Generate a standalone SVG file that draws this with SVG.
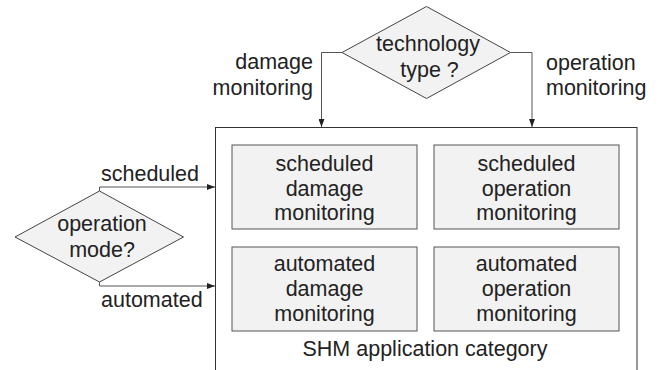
<svg xmlns="http://www.w3.org/2000/svg" width="659" height="370" viewBox="0 0 659 370">
<style>
text{font-family:"Liberation Sans",Arial,sans-serif;font-size:21.5px;fill:#222}
.c{text-anchor:middle}
.e{text-anchor:end}
.box{fill:#f2f2f2;stroke:#555;stroke-width:1}
.dia{fill:#f2f2f2;stroke:#444;stroke-width:1}
.outer{fill:#fff;stroke:#333;stroke-width:1}
.conn{fill:none;stroke:#555;stroke-width:1}
</style>
<defs>
<marker id="arr" viewBox="0 0 8 6" refX="8" refY="3" markerWidth="8" markerHeight="6" markerUnits="userSpaceOnUse" orient="auto">
<path d="M0,0 L8,3 L0,6 Z" fill="#222"/>
</marker>
</defs>
<rect width="659" height="370" fill="#fff"/>
<g id="category">
<rect class="outer" x="215.5" y="127.5" width="421.5" height="260"/>
<text class="c" x="425" y="356">SHM application category</text>
</g>
<g id="sched-damage">
<rect class="box" x="232" y="145" width="185" height="84"/>
<text class="c" x="324.5" y="170.5">scheduled</text>
<text class="c" x="324.5" y="195.5">damage</text>
<text class="c" x="324.5" y="220">monitoring</text>
</g>
<g id="sched-operation">
<rect class="box" x="434" y="145" width="185" height="84"/>
<text class="c" x="526.5" y="170.5">scheduled</text>
<text class="c" x="526.5" y="195.5">operation</text>
<text class="c" x="526.5" y="220">monitoring</text>
</g>
<g id="auto-damage">
<rect class="box" x="232" y="247" width="185" height="84"/>
<text class="c" x="324.5" y="271">automated</text>
<text class="c" x="324.5" y="296">damage</text>
<text class="c" x="324.5" y="321">monitoring</text>
</g>
<g id="auto-operation">
<rect class="box" x="434" y="247" width="185" height="84"/>
<text class="c" x="526.5" y="271">automated</text>
<text class="c" x="526.5" y="296">operation</text>
<text class="c" x="526.5" y="321">monitoring</text>
</g>
<g id="technology">
<polygon class="dia" points="426.5,6.5 510.5,52.5 426.5,98.5 342,52.5"/>
<text class="c" x="428" y="51">technology</text>
<text class="c" x="429.5" y="77">type ?</text>
</g>
<g id="mode">
<polygon class="dia" points="99.5,191 183.5,237 99.5,282 15,237"/>
<text class="c" x="102" y="231">operation</text>
<text class="c" x="102" y="256.5">mode?</text>
</g>
<g id="connectors">
<path class="conn" d="M342,52.5 H321.5 V127" marker-end="url(#arr)"/>
<path class="conn" d="M510.5,52.5 H532 V127" marker-end="url(#arr)"/>
<path class="conn" d="M99.5,191 V187 H215" marker-end="url(#arr)"/>
<path class="conn" d="M99.5,282 V286 H215" marker-end="url(#arr)"/>
<text class="e" x="313" y="69">damage</text>
<text class="e" x="313" y="94.5">monitoring</text>
<text x="546" y="70">operation</text>
<text x="546" y="94.5">monitoring</text>
<text x="101" y="180.5">scheduled</text>
<text x="101" y="306.5">automated</text>
</g>
</svg>
